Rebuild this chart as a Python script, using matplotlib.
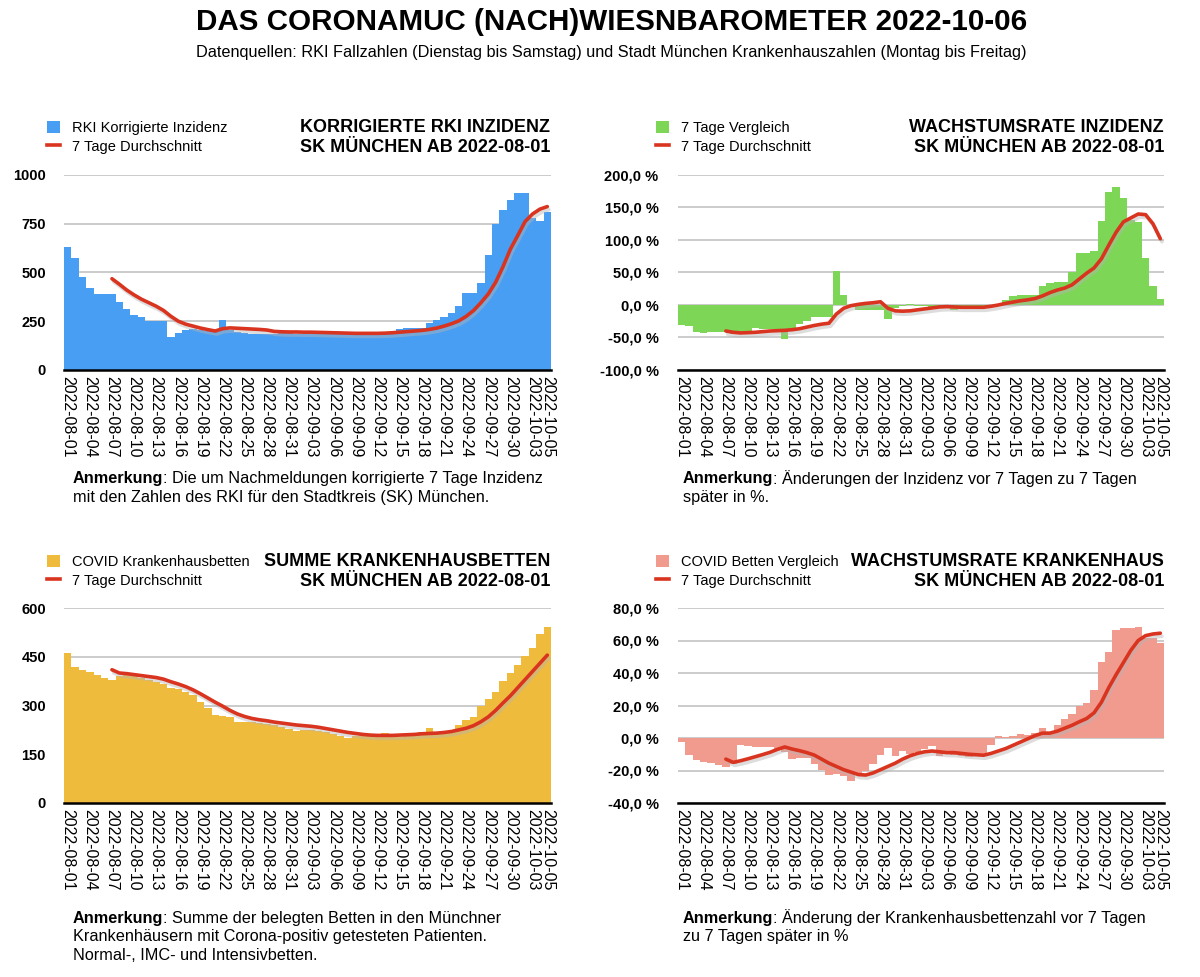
import matplotlib
matplotlib.use("Agg")
import matplotlib.pyplot as plt
import matplotlib.patheffects as pe
from matplotlib.lines import Line2D
import pandas as pd

plt.rcParams['font.family'] = ['Liberation Sans', 'DejaVu Sans']

# ---------------- data ----------------
days = [d.strftime("%Y-%m-%d") for d in pd.date_range("2022-08-01", "2022-10-05", freq="D")]

tick_labels = ["2022-08-01", "2022-08-04", "2022-08-07", "2022-08-10", "2022-08-13",
               "2022-08-16", "2022-08-19", "2022-08-22", "2022-08-25", "2022-08-28",
               "2022-08-31", "2022-09-03", "2022-09-06", "2022-09-09", "2022-09-12",
               "2022-09-15", "2022-09-18", "2022-09-21", "2022-09-24", "2022-09-27",
               "2022-09-30", "2022-10-03", "2022-10-05"]

inzidenz = [631, 575, 476, 420, 391, 391, 391, 350, 313, 284, 272, 252, 252, 252, 167,
            190, 204, 209, 204, 200, 197, 257, 204, 197, 190, 187, 187, 187, 187,
            188, 188, 187, 187, 186, 186, 186, 186, 185, 185, 185, 185, 186, 187, 188, 190,
            212, 217, 217, 217, 241, 255, 272, 290, 328, 394, 394, 445, 588, 748, 818,
            870, 908, 908, 777, 764, 811]
inzidenz_avg = [None] * 6 + [
    468, 440, 410, 385, 363, 345, 327, 305, 275, 250, 235, 225, 215, 207, 200,
    212, 216, 214, 212, 210, 208, 205, 198, 196, 195, 195, 194, 194, 193, 192,
    191, 190, 189, 188, 188, 188, 188, 189, 191, 194, 197, 200, 203, 208, 215,
    225, 237, 252, 275, 305, 345, 390, 450, 530, 620, 690, 762, 800, 825, 838]

wachstum = [-31, -33, -41, -43, -41, -41, -41, -44, -45, -45, -36, -37, -37, -37, -53,
            -37, -29, -24, -19, -19, -18, 53, 15, -3, -7, -8, -8, -8, -22, -4,
            -2, 1, -2, -2, -3, -3, -4, -7, -4, -4, -3, -3, -1, 2, 7,
            14, 15, 15, 15, 29.5, 33.6, 35, 35, 51, 80, 80, 83, 129.5, 174, 181.5,
            164, 131, 128, 73, 28.5, 8.7]
wachstum_avg = [None] * 6 + [
    -40, -42, -43, -42.5, -42, -41, -40, -39.5, -39, -38, -36.5, -34, -31.5, -29.5, -28,
    -14, -5, -1, 1, 2.5, 3.5, 5, -5, -9, -9.5, -9, -7.5, -6, -4.5, -3,
    -2.5, -3, -3.5, -3.5, -3.5, -3.5, -2, 0, 2.5, 4.5, 6.5, 8, 10, 14, 19,
    23, 26, 31, 40, 49, 57, 71, 92, 112, 128, 134, 140, 139, 125, 102]

betten = [461, 419, 409, 404, 395, 385, 380, 390, 400, 392, 385, 378, 372, 365, 354,
          350, 341, 331, 312, 293, 272, 269, 264, 249, 248, 248, 246, 244, 241, 234,
          228, 223, 225, 225, 223, 219, 213, 207, 201, 205, 209, 213, 213, 215, 210,
          203, 206, 208, 218, 230, 220, 223, 225, 239, 254, 266, 298, 320, 341, 374,
          399, 424, 451, 478, 519, 541]
betten_avg = [None] * 6 + [
    410, 400, 398, 395, 392, 389, 386, 381, 373, 366, 358, 348, 336, 323, 310,
    298, 285, 274, 266, 260, 256, 253, 249, 246, 243, 240, 238, 236, 233, 229,
    225, 221, 217, 214, 211, 209, 208, 208, 208, 209, 210, 211, 213, 214, 215,
    217, 220, 225, 230, 238, 250, 265, 285, 308, 330, 355, 380, 405, 430, 455]

betten_vgl = [-2.6, -10.6, -13.6, -14.6, -15.2, -16.6, -17.6, -16, -4.5, -5, -5.5, -5.5, -5.5, -6.5, -8.6,
              -13.2, -12.2, -12.6, -16, -19.6, -22.6, -22, -23.6, -26.2, -21.6, -20.6, -15.7, -10.6, -6, -11.2,
              -8.2, -9.6, -8.6, -7, -5, -11.2, -10, -10.6, -11.2, -11.6, -11.2, -10.8, -4.5, 1, 0.4,
              1.4, 2.2, 2, 3, 6.3, 2.2, 8.2, 11.6, 14.7, 19.4, 21.4, 29.6, 47, 52.7, 66.3,
              67.6, 67.6, 68.6, 61.8, 61.4, 58.4]
betten_vgl_avg = [None] * 6 + [
    -13, -15, -14, -12.8, -11.5, -10.2, -8.8, -7, -5.5, -6.8, -7.8, -9, -10.5, -13, -15.5,
    -17.5, -19.5, -21, -22.5, -22.8, -21.5, -19.5, -17.5, -15.5, -13, -11, -9.5, -8.5, -8, -8.5,
    -9, -9, -9.5, -10, -10.3, -10.6, -9.5, -8, -6.5, -4.5, -2.5, -0.5, 1.5, 3, 3,
    4.2, 6, 7.8, 10, 12, 15.5, 22, 31, 39, 46.5, 54, 60, 63, 64, 64.5]

# ---------------- layout ----------------
W, H = 1200, 977
fig = plt.figure(figsize=(W / 100, H / 100), dpi=100)


def rect(x0, y0, x1, y1):
    return [x0 / W, 1 - y1 / H, (x1 - x0) / W, (y1 - y0) / H]


def fx(x):
    return x / W


def fy(y):
    return 1 - y / H


RED = '#d9341f'
x = list(range(len(days)))
tick_pos = [days.index(t) for t in tick_labels]


def pct(v, _=None):
    return f"{v:.1f}".replace('.', ',') + " %"


def num(v, _=None):
    return f"{v:d}"


def panel(box, values, avg, color, ymin, ymax, ystep, fmt, ypad, leg_label, leg_xy,
          title_lines, title_x, title_y, note_lines, note_xy):
    ax = fig.add_axes(rect(*box))
    bars = ax.bar(x, values, width=1.0, color=color, linewidth=0, zorder=2)
    xs = [i for i, v in zip(x, avg) if v is not None]
    ys = [v for v in avg if v is not None]
    ax.plot(xs, ys, color=RED, lw=2.6, zorder=3, solid_capstyle='round',
            path_effects=[pe.SimpleLineShadow(offset=(1.2, -2.2), shadow_color='#b5b5b5', alpha=0.45),
                          pe.Normal()])
    ax.set_xlim(-0.5, len(days) - 0.5)
    ax.set_ylim(ymin, ymax)
    ticks = list(range(ymin, ymax + 1, ystep))
    ax.set_yticks(ticks)
    ax.set_yticklabels([fmt(t) for t in ticks], fontweight='bold', fontsize=10.5)
    ax.yaxis.grid(True, color='#bdbdbd', lw=1.1)
    ax.set_axisbelow(True)
    for s in ['left', 'right', 'top']:
        ax.spines[s].set_visible(False)
    ax.spines['bottom'].set_color('black')
    ax.spines['bottom'].set_linewidth(1.8)
    ax.spines['bottom'].set_zorder(4)
    ax.tick_params(axis='y', length=0, pad=ypad)
    ax.tick_params(axis='x', length=0, pad=4)
    ax.set_xticks(tick_pos)
    ax.set_xticklabels(tick_labels, rotation=270, fontsize=11.5, va='top', ha='center')

    proxy_line = Line2D([0], [0], color=RED, lw=2.6)
    ax.legend([bars, proxy_line], [leg_label, "7 Tage Durchschnitt"],
              loc='upper left', bbox_to_anchor=(fx(leg_xy[0]), fy(leg_xy[1])),
              bbox_transform=fig.transFigure, frameon=False, fontsize=10.5,
              handlelength=0.9, handleheight=0.9, handletextpad=0.8,
              labelspacing=0.3, borderaxespad=0, borderpad=0)

    for k, t in enumerate(title_lines):
        fig.text(fx(title_x), fy(title_y + k * 20), t, ha='right', va='center',
                 fontweight='bold', fontsize=13)

    nx, ny = note_xy
    for k, line in enumerate(note_lines):
        yy = fy(ny + k * 18.5)
        if k == 0:
            b = fig.text(fx(nx), yy, "Anmerkung", ha='left', va='center',
                         fontweight='bold', fontsize=11.7)
            ax.annotate(line, xy=(1, 0.5), xycoords=b, ha='left', va='center', fontsize=11.7,
                        annotation_clip=False)
        else:
            fig.text(fx(nx), yy, line, ha='left', va='center', fontsize=11.7)
    return ax


panel((64, 175, 551, 370), inzidenz, inzidenz_avg, '#479ef3', 0, 1000, 250, num, 13,
      "RKI Korrigierte Inzidenz", (47, 121),
      ["KORRIGIERTE RKI INZIDENZ", "SK MÜNCHEN AB 2022-08-01"], 550, 128,
      [": Die um Nachmeldungen korrigierte 7 Tage Inzidenz",
       "mit den Zahlen des RKI für den Stadtkreis (SK) München."], (73, 479))

panel((678, 175, 1164, 370), wachstum, wachstum_avg, '#7dd655', -100, 200, 50, pct, 14,
      "7 Tage Vergleich", (656, 121),
      ["WACHSTUMSRATE INZIDENZ", "SK MÜNCHEN AB 2022-08-01"], 1164, 128,
      [": Änderungen der Inzidenz vor 7 Tagen zu 7 Tagen",
       "später in %."], (683, 479))

panel((64, 608, 551, 803), betten, betten_avg, '#efbb3c', 0, 600, 150, num, 13,
      "COVID Krankenhausbetten", (47, 555),
      ["SUMME KRANKENHAUSBETTEN", "SK MÜNCHEN AB 2022-08-01"], 550, 561,
      [": Summe der belegten Betten in den Münchner",
       "Krankenhäusern mit Corona-positiv getesteten Patienten.",
       "Normal-, IMC- und Intensivbetten."], (73, 918))

panel((678, 608, 1164, 803), betten_vgl, betten_vgl_avg, '#f19b8f', -40, 80, 20, pct, 14,
      "COVID Betten Vergleich", (656, 555),
      ["WACHSTUMSRATE KRANKENHAUS", "SK MÜNCHEN AB 2022-08-01"], 1164, 561,
      [": Änderung der Krankenhausbettenzahl vor 7 Tagen",
       "zu 7 Tagen später in %"], (683, 918))

fig.text(fx(612), fy(22), "DAS CORONAMUC (NACH)WIESNBAROMETER 2022-10-06",
         ha='center', va='center', fontweight='bold', fontsize=21.3)
fig.text(fx(611), fy(53),
         "Datenquellen: RKI Fallzahlen (Dienstag bis Samstag) und Stadt München Krankenhauszahlen (Montag bis Freitag)",
         ha='center', va='center', fontsize=11.7)

fig.savefig("out.png", dpi=100, facecolor='white')
